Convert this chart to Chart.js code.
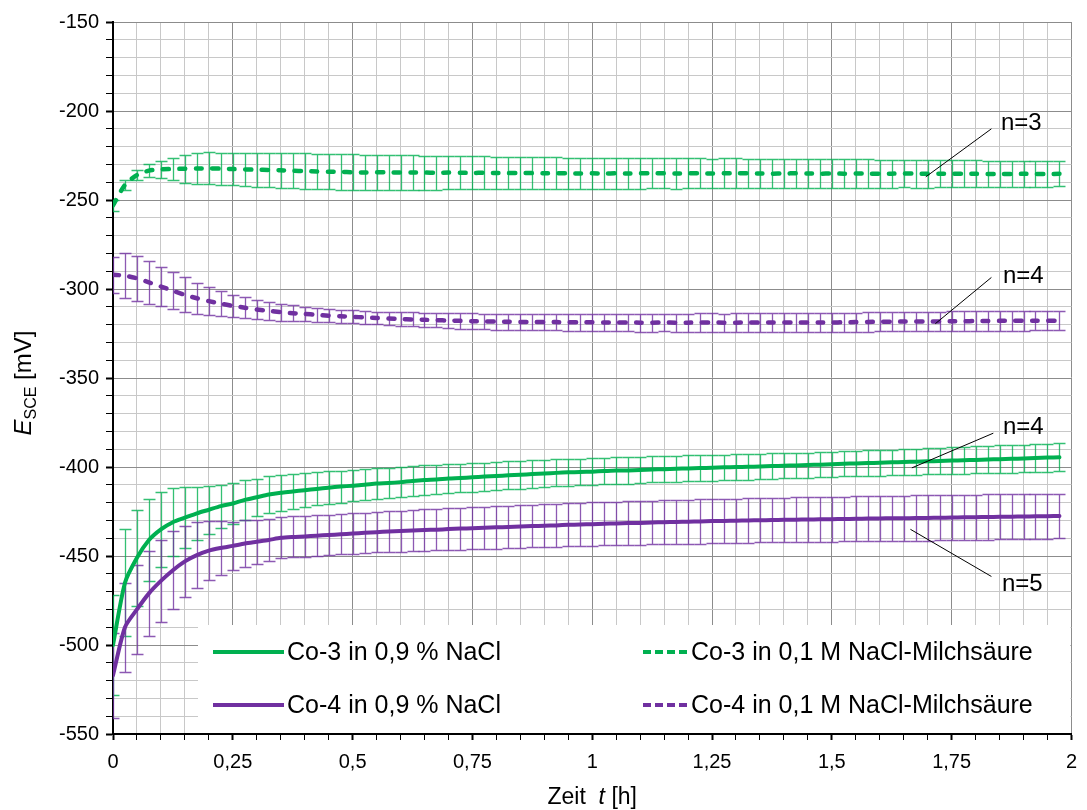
<!DOCTYPE html>
<html>
<head>
<meta charset="utf-8">
<script src="https://cdn.jsdelivr.net/npm/chart.js@4.4.0/dist/chart.umd.min.js"></script>
<style>
  html, body { margin: 0; padding: 0; background: #fff; }
  #wrap { width: 1087px; height: 810px; }
</style>
</head>
<body>
<div id="wrap"><canvas id="chart" width="1087" height="810"></canvas></div>
<script>
// Zeit in Stunden (Messpunkte alle 1,5 min)
const timeH = [
  0, 0.025, 0.05, 0.075, 0.1, 0.125, 0.15, 0.175, 0.2, 0.225,
  0.25, 0.275, 0.3, 0.325, 0.35, 0.375, 0.4, 0.425, 0.45, 0.475,
  0.5, 0.525, 0.55, 0.575, 0.6, 0.625, 0.65, 0.675, 0.7, 0.725,
  0.75, 0.775, 0.8, 0.825, 0.85, 0.875, 0.9, 0.925, 0.95, 0.975,
  1, 1.025, 1.05, 1.075, 1.1, 1.125, 1.15, 1.175, 1.2, 1.225,
  1.25, 1.275, 1.3, 1.325, 1.35, 1.375, 1.4, 1.425, 1.45, 1.475,
  1.5, 1.525, 1.55, 1.575, 1.6, 1.625, 1.65, 1.675, 1.7, 1.725,
  1.75, 1.775, 1.8, 1.825, 1.85, 1.875, 1.9, 1.925, 1.95, 1.975
];

// Co-3 in 0,9 % NaCl
const co3NaCl = [
  -500, -465, -451, -441, -435, -431, -428.5, -426, -424, -422,
  -420.5, -418.5, -417, -415.5, -414.5, -413.8, -413, -412.3, -411.6, -411,
  -410.5, -410, -409.3, -409, -408.5, -407.8, -407.3, -407, -406.5, -406.2,
  -405.8, -405.4, -405, -404.7, -404.3, -404, -403.6, -403.3, -403, -402.8,
  -402.6, -402.3, -402, -401.9, -401.7, -401.4, -401.2, -401, -400.8, -400.6,
  -400.4, -400.2, -400, -399.9, -399.7, -399.5, -399.3, -399.1, -398.9, -398.7,
  -398.5, -398.2, -398, -397.8, -397.6, -397.4, -397.2, -397, -396.8, -396.6,
  -396.4, -396.2, -396, -395.8, -395.6, -395.4, -395.2, -395, -394.7, -394.5
];
const co3NaClErr = [
  28, 30, 27, 23, 21, 19, 17, 15, 13.5, 12,
  11.5, 11, 10.5, 10.2, 10, 9.8, 9.5, 9.3, 9.1, 9,
  8.8, 8.7, 8.6, 8.5, 8.4, 8.3, 8.2, 8.1, 8.1, 8,
  8, 7.9, 7.9, 7.8, 7.8, 7.7, 7.7, 7.6, 7.6, 7.5,
  7.5, 7.5, 7.4, 7.4, 7.4, 7.3, 7.3, 7.3, 7.3, 7.3,
  7.3, 7.2, 7.2, 7.2, 7.1, 7.1, 7.1, 7, 7, 7,
  7, 7, 7.1, 7.1, 7.2, 7.2, 7.3, 7.3, 7.4, 7.4,
  7.5, 7.5, 7.6, 7.6, 7.7, 7.7, 7.8, 7.8, 7.9, 8
];

// Co-4 in 0,9 % NaCl
const co4NaCl = [
  -517, -490, -480, -471, -464, -458, -453, -449.5, -447, -445.5,
  -444.3, -443, -442, -441, -439.8, -439.3, -439, -438.6, -438.2, -437.8,
  -437.4, -437, -436.6, -436.3, -436, -435.7, -435.4, -435.2, -434.9, -434.6,
  -434.4, -434.1, -433.9, -433.7, -433.4, -433.2, -433, -432.8, -432.5, -432.3,
  -432.1, -431.9, -431.7, -431.5, -431.4, -431.2, -431, -430.9, -430.7, -430.6,
  -430.4, -430.3, -430.2, -430, -429.9, -429.8, -429.7, -429.6, -429.5, -429.4,
  -429.3, -429.2, -429.1, -429, -428.9, -428.8, -428.8, -428.7, -428.6, -428.5,
  -428.4, -428.3, -428.2, -428.1, -428, -427.9, -427.8, -427.7, -427.6, -427.5
];
const co4NaClErr = [
  24, 25, 25, 24, 23, 22, 20, 18.5, 16.5, 15,
  13.5, 13, 12.5, 12, 11.5, 11.5, 11.4, 11.4, 11.3, 11.3,
  11.3, 11.4, 11.4, 11.5, 11.5, 11.6, 11.6, 11.7, 11.7, 11.8,
  11.8, 11.9, 11.9, 12, 12, 12, 12.1, 12.1, 12.1, 12.2,
  12.2, 12.2, 12.3, 12.3, 12.3, 12.3, 12.4, 12.4, 12.4, 12.4,
  12.4, 12.5, 12.5, 12.5, 12.5, 12.5, 12.5, 12.6, 12.6, 12.6,
  12.6, 12.6, 12.6, 12.6, 12.6, 12.7, 12.7, 12.7, 12.7, 12.7,
  12.7, 12.7, 12.7, 12.7, 12.7, 12.7, 12.7, 12.7, 12.7, 12.6
];

// Co-3 in 0,1 M NaCl-Milchsäure
const co3Lactic = [
  -253, -241.5, -236, -233.5, -232.8, -232.6, -232.4, -232.3, -232.2, -232.4,
  -232.6, -232.8, -233, -233.1, -233.3, -233.6, -233.8, -234, -234.1, -234.2,
  -234.4, -234.5, -234.4, -234.5, -234.6, -234.5, -234.6, -234.7, -234.6, -234.7,
  -234.8, -234.7, -234.8, -234.9, -234.8, -234.9, -235, -234.9, -235, -235.1,
  -235, -235.1, -235, -235.1, -235, -234.9, -235, -235.1, -235, -235,
  -235.1, -235, -234.9, -235, -235.1, -235.2, -235.1, -235, -235.1, -235.2,
  -235.1, -235.2, -235.1, -235.2, -235.3, -235.2, -235.1, -235.2, -235.3, -235.2,
  -235.3, -235.2, -235.3, -235.4, -235.3, -235.4, -235.3, -235.4, -235.4, -235.3
];
const co3LacticErr = [
  3, 3, 3, 3.5, 4.7, 6, 7.8, 8.5, 9, 9,
  9.2, 9.3, 9.5, 9.6, 9.8, 9.9, 10, 10, 10, 10,
  10, 9.9, 9.9, 9.8, 9.7, 9.7, 9.6, 9.5, 9.5, 9.4,
  9.3, 9.3, 9.2, 9.1, 9.1, 9, 9, 8.9, 8.8, 8.8,
  8.7, 8.7, 8.6, 8.6, 8.6, 8.5, 8.5, 8.5, 8.5, 8.4,
  8.4, 8.4, 8.3, 8.3, 8.3, 8.2, 8.2, 8.2, 8.1, 8.1,
  8.1, 8, 8, 8, 7.9, 7.9, 7.8, 7.8, 7.7, 7.7,
  7.6, 7.6, 7.5, 7.5, 7.4, 7.3, 7.3, 7.2, 7.1, 7
];

// Co-4 in 0,1 M NaCl-Milchsäure
const co4Lactic = [
  -292, -292.5, -294, -296.3, -298.6, -301, -303.3, -305.2, -306.8, -308.2,
  -309.5, -310.5, -311.5, -312.3, -313, -313.6, -314, -314.5, -315, -315.3,
  -315.6, -316, -316.3, -316.6, -316.9, -317.1, -317.3, -317.5, -317.7, -317.9,
  -318.1, -318.2, -318.3, -318.4, -318.5, -318.5, -318.6, -318.6, -318.7, -318.7,
  -318.7, -318.8, -318.8, -318.8, -318.9, -318.9, -318.8, -318.9, -318.9, -318.8,
  -318.8, -318.9, -318.9, -318.8, -318.9, -318.8, -318.8, -318.9, -318.8, -318.8,
  -318.8, -318.7, -318.6, -318.5, -318.4, -318.4, -318.3, -318.3, -318.2, -318.2,
  -318.1, -318.1, -318, -318, -317.9, -317.9, -317.9, -317.8, -317.8, -317.8
];
const co4LacticErr = [
  10, 12.5, 12.5, 12, 11.2, 10.5, 9.8, 8.7, 7.8, 7,
  6.4, 5.8, 5.3, 5, 4.7, 4.4, 4.1, 3.9, 3.8, 3.7,
  3.6, 3.6, 3.6, 3.7, 3.8, 3.9, 4, 4.1, 4.2, 4.3,
  4.4, 4.4, 4.5, 4.5, 4.6, 4.6, 4.7, 4.7, 4.8, 4.8,
  4.8, 4.9, 4.9, 4.9, 5, 5, 5, 5, 5.1, 5.1,
  5.1, 5.1, 5.2, 5.2, 5.2, 5.2, 5.2, 5.3, 5.3, 5.3,
  5.3, 5.3, 5.3, 5.4, 5.4, 5.4, 5.4, 5.4, 5.4, 5.5,
  5.5, 5.5, 5.5, 5.5, 5.5, 5.5, 5.5, 5.5, 5.5, 5.5
];

const seriesLabels = [
  'Co-3 in 0,9 % NaCl',
  'Co-4 in 0,9 % NaCl',
  'Co-3 in 0,1 M NaCl-Milchsäure',
  'Co-4 in 0,1 M NaCl-Milchsäure'
];

// Anzahl Proben: Text + Hinweislinie (Datenkoordinaten t, mV)
const sampleNotes = [
  { text: 'n=3', from: [1.833, -210], to: [1.696, -237], at: [1.853, -207] },
  { text: 'n=4', from: [1.833, -293.5], to: [1.716, -319.5], at: [1.857, -293] },
  { text: 'n=4', from: [1.837, -381], to: [1.667, -400.5], at: [1.857, -378] },
  { text: 'n=5', from: [1.664, -435], to: [1.833, -461.5], at: [1.855, -466] }
];

const GREEN = '#00b050';
const PURPLE = '#7030a0';
const FONT = '"Liberation Sans", Arial, sans-serif';
const BIG = 24;
const LEGEND_SIZE = 25;

const errorSets = [co3NaClErr, co4NaClErr, co3LacticErr, co4LacticErr];

function toPoints(values) {
  return values.map((v, i) => ({ x: timeH[i], y: v }));
}

function isMultiple(v, step) {
  const r = v / step;
  return Math.abs(r - Math.round(r)) < 1e-6;
}

function fmt(v) {
  return String(+v.toFixed(2)).replace('.', ',');
}

// Fehlerbalken hinter den Linien
const errorBarPlugin = {
  id: 'errorBars',
  beforeDatasetsDraw(chart) {
    const { ctx, chartArea, scales } = chart;
    const y = scales.y;
    ctx.save();
    ctx.beginPath();
    ctx.rect(chartArea.left, chartArea.top, chartArea.right - chartArea.left, chartArea.bottom - chartArea.top);
    ctx.clip();
    const half = (scales.x.getPixelForValue(timeH[1]) - scales.x.getPixelForValue(timeH[0])) / 2;
    chart.data.datasets.forEach((ds, i) => {
      const meta = chart.getDatasetMeta(i);
      const errs = errorSets[i];
      ctx.strokeStyle = ds.borderColor;
      ctx.globalAlpha = 0.8;
      ctx.lineWidth = 1.3;
      meta.data.forEach((pt, j) => {
        const v = ds.data[j].y;
        const top = Math.round(y.getPixelForValue(v + errs[j])) + 0.5;
        const bot = Math.round(y.getPixelForValue(v - errs[j])) + 0.5;
        const x = Math.round(pt.x) + 0.5;
        ctx.beginPath();
        ctx.moveTo(x, top);
        ctx.lineTo(x, bot);
        ctx.moveTo(x - half, top);
        ctx.lineTo(x + half, top);
        ctx.moveTo(x - half, bot);
        ctx.lineTo(x + half, bot);
        ctx.stroke();
      });
    });
    ctx.restore();
  }
};

// n=... Beschriftungen und Legende im Diagramm
const overlayPlugin = {
  id: 'overlay',
  afterDatasetsDraw(chart) {
    const { ctx, chartArea, scales } = chart;
    const px = (p) => [scales.x.getPixelForValue(p[0]), scales.y.getPixelForValue(p[1])];

    ctx.save();
    ctx.strokeStyle = '#000';
    ctx.lineWidth = 1;
    ctx.fillStyle = '#000';
    ctx.font = BIG + 'px ' + FONT;
    ctx.textBaseline = 'middle';
    ctx.textAlign = 'left';
    sampleNotes.forEach(n => {
      const a = px(n.from), b = px(n.to), t = px(n.at);
      ctx.beginPath();
      ctx.moveTo(a[0], a[1]);
      ctx.lineTo(b[0], b[1]);
      ctx.stroke();
      ctx.fillText(n.text, t[0], t[1]);
    });

    // Legende
    const boxL = 198, boxT = 625;
    ctx.fillStyle = '#fff';
    ctx.fillRect(boxL, boxT, chartArea.right - 1 - boxL, chartArea.bottom - 1 - boxT);
    ctx.font = LEGEND_SIZE + 'px ' + FONT;
    const cols = [213, 643];
    const rows = [652, 705];
    const order = [[0, 0, 0], [2, 1, 0], [1, 0, 1], [3, 1, 1]];
    order.forEach(([di, c, r]) => {
      const ds = chart.data.datasets[di];
      const x0 = cols[c], y0 = rows[r];
      const len = c === 0 ? 71 : 45;
      ctx.strokeStyle = ds.borderColor;
      ctx.lineWidth = 4;
      ctx.lineCap = 'butt';
      ctx.setLineDash(ds.borderDash && ds.borderDash.length ? [8, 4] : []);
      ctx.beginPath();
      ctx.moveTo(x0, y0);
      ctx.lineTo(x0 + len, y0);
      ctx.stroke();
      ctx.setLineDash([]);
      ctx.fillStyle = '#000';
      ctx.fillText(ds.label, x0 + len + 3, y0 + 1);
    });
    ctx.restore();
  },
  afterDraw(chart) {
    const { ctx, chartArea } = chart;
    ctx.save();
    ctx.fillStyle = '#000';
    ctx.textBaseline = 'alphabetic';
    ctx.textAlign = 'left';

    // y-Achsentitel: E_SCE [mV]
    const cy = (chartArea.top + chartArea.bottom) / 2 + 5;
    ctx.translate(31, cy);
    ctx.rotate(-Math.PI / 2);
    ctx.font = 'italic ' + BIG + 'px ' + FONT;
    const wE = ctx.measureText('E').width;
    ctx.font = '16px ' + FONT;
    const wS = ctx.measureText('SCE').width;
    ctx.font = BIG + 'px ' + FONT;
    const wU = ctx.measureText(' [mV]').width;
    let x = -(wE + wS + wU) / 2;
    ctx.font = 'italic ' + BIG + 'px ' + FONT;
    ctx.fillText('E', x, 0);
    x += wE;
    ctx.font = '16px ' + FONT;
    ctx.fillText('SCE', x, 5);
    x += wS;
    ctx.font = BIG + 'px ' + FONT;
    ctx.fillText(' [mV]', x, 0);
    ctx.setTransform(1, 0, 0, 1, 0, 0);

    // x-Achsentitel: Zeit  t [h]
    const fx = '23px ' + FONT;
    ctx.font = fx;
    const w1 = ctx.measureText('Zeit  ').width;
    ctx.font = 'italic ' + fx;
    const w2 = ctx.measureText('t').width;
    ctx.font = fx;
    const w3 = ctx.measureText(' [h]').width;
    let xx = (chartArea.left + chartArea.right) / 2 - (w1 + w2 + w3) / 2;
    ctx.fillText('Zeit  ', xx, 804);
    xx += w1;
    ctx.font = 'italic ' + fx;
    ctx.fillText('t', xx, 804);
    xx += w2;
    ctx.font = fx;
    ctx.fillText(' [h]', xx, 804);
    ctx.restore();
  }
};

const lineBase = { pointRadius: 0, borderWidth: 4, tension: 0.25, fill: false, borderCapStyle: 'round' };
const dashBase = { ...lineBase, borderWidth: 4.5, borderDash: [6, 10.5] };

new Chart(document.getElementById('chart'), {
  type: 'line',
  data: {
    datasets: [
      { ...lineBase, label: seriesLabels[0], data: toPoints(co3NaCl), borderColor: GREEN },
      { ...lineBase, label: seriesLabels[1], data: toPoints(co4NaCl), borderColor: PURPLE },
      { ...dashBase, label: seriesLabels[2], data: toPoints(co3Lactic), borderColor: GREEN },
      { ...dashBase, label: seriesLabels[3], data: toPoints(co4Lactic), borderColor: PURPLE }
    ]
  },
  options: {
    responsive: false,
    animation: false,
    devicePixelRatio: 1,
    layout: { padding: { top: 22, right: 10, left: 0, bottom: 0 } },
    plugins: { legend: { display: false }, tooltip: { enabled: false } },
    scales: {
      x: {
        type: 'linear',
        min: 0,
        max: 2,
        afterFit: (s) => { s.height = 76; },
        grid: {
          color: (c) => isMultiple(c.tick.value, 0.25) ? '#8c8c8c' : '#c8c8c8',
          lineWidth: 1,
          tickColor: '#000',
          tickLength: 6,
          tickWidth: (c) => isMultiple(c.tick.value, 0.25) ? 2 : 1
        },
        border: { color: '#000', width: 2 },
        ticks: {
          stepSize: 0.05,
          autoSkip: false,
          maxRotation: 0,
          padding: 10,
          color: '#000',
          font: { family: FONT, size: 20 },
          callback: (v) => isMultiple(v, 0.25) ? fmt(v) : ''
        }
      },
      y: {
        min: -550,
        max: -150,
        afterFit: (s) => { s.width = 113; },
        grid: {
          color: (c) => isMultiple(c.tick.value, 50) ? '#8c8c8c' : '#c8c8c8',
          lineWidth: 1,
          tickColor: '#000',
          tickLength: 7,
          tickWidth: (c) => isMultiple(c.tick.value, 50) ? 2 : 1
        },
        border: { color: '#000', width: 2 },
        ticks: {
          stepSize: 10,
          autoSkip: false,
          padding: 7,
          color: '#000',
          font: { family: FONT, size: 20 },
          callback: (v) => isMultiple(v, 50) ? String(v) : ''
        }
      }
    }
  },
  plugins: [errorBarPlugin, overlayPlugin]
});
</script>
</body>
</html>
